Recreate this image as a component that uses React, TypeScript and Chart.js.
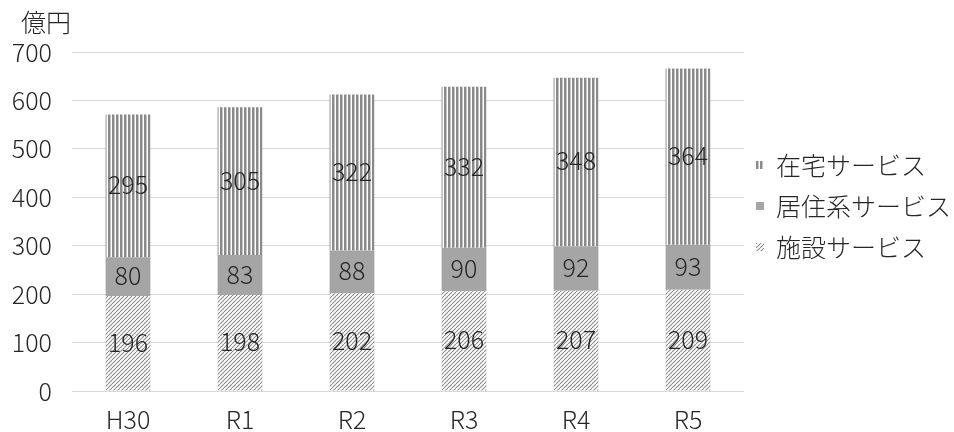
import React, { useEffect, useRef } from "react";
import { Chart, registerables } from "chart.js";

Chart.register(...registerables);

const categories = ["H30", "R1", "R2", "R3", "R4", "R5"];
const shisetsu = [196, 198, 202, 206, 207, 209];
const kyojuu = [80, 83, 88, 90, 92, 93];
const zaitaku = [295, 305, 322, 332, 348, 364];
const seriesNames = ["施設サービス", "居住系サービス", "在宅サービス"];
const yTicks = [0, 100, 200, 300, 400, 500, 600, 700];
const unitLabel = "億円";

const FONT = "'Noto Sans CJK JP', 'Noto Sans', sans-serif";
const WEIGHT = 300;
const SIZE = 25;
const TEXT = "#262626";

function makeVertical(): CanvasPattern | string {
  const c = document.createElement("canvas");
  c.width = 4;
  c.height = 4;
  const ctx = c.getContext("2d");
  if (!ctx) return "#8c8c8c";
  ctx.fillStyle = "#ffffff";
  ctx.fillRect(0, 0, 4, 4);
  ctx.fillStyle = "#8a8a8a";
  ctx.fillRect(0, 0, 2, 4);
  ctx.fillStyle = "#c4c4c4";
  ctx.fillRect(2, 0, 1, 4);
  return ctx.createPattern(c, "repeat") || "#8c8c8c";
}

function makeDiagonal(): CanvasPattern | string {
  const s = 4;
  const c = document.createElement("canvas");
  c.width = s;
  c.height = s;
  const ctx = c.getContext("2d");
  if (!ctx) return "#cccccc";
  ctx.fillStyle = "#ffffff";
  ctx.fillRect(0, 0, s, s);
  ctx.strokeStyle = "#8c8c8c";
  ctx.lineWidth = 1.1;
  ctx.beginPath();
  for (let k = -1; k <= 1; k++) {
    ctx.moveTo(k * s, s);
    ctx.lineTo(k * s + s, 0);
  }
  ctx.stroke();
  return ctx.createPattern(c, "repeat") || "#cccccc";
}

const dataLabelPlugin = {
  id: "dataLabels",
  afterDatasetsDraw(chart: any) {
    const ctx = chart.ctx;
    ctx.save();
    ctx.font = `${WEIGHT} ${SIZE}px ${FONT}`;
    ctx.fillStyle = TEXT;
    ctx.textAlign = "center";
    ctx.textBaseline = "middle";
    chart.data.datasets.forEach((ds: any, i: number) => {
      const meta = chart.getDatasetMeta(i);
      meta.data.forEach((el: any, j: number) => {
        const y = (el.y + el.base) / 2;
        ctx.fillText(String(ds.data[j]), el.x, y - 1);
      });
    });
    ctx.restore();
  },
};

const unitAndLegendPlugin = {
  id: "unitAndLegend",
  afterDraw(chart: any) {
    const ctx = chart.ctx;
    const area = chart.chartArea;
    ctx.save();
    ctx.font = `${WEIGHT} ${SIZE}px ${FONT}`;
    ctx.fillStyle = TEXT;
    ctx.textAlign = "left";
    ctx.textBaseline = "middle";
    ctx.fillText(unitLabel, 21, 22);
    // legend, reversed order (top series first)
    const ds = chart.data.datasets;
    const x0 = area.right + 12;
    const yStart = 165;
    const step = 41;
    for (let k = 0; k < ds.length; k++) {
      const d = ds[ds.length - 1 - k];
      const y = yStart + k * step;
      ctx.fillStyle = d.backgroundColor;
      ctx.fillRect(x0, y - 4, 8, 8);
      ctx.fillStyle = TEXT;
      ctx.fillText(d.label, x0 + 20, y);
    }
    ctx.restore();
  },
};

export default function App() {
  const ref = useRef<HTMLCanvasElement>(null);
  useEffect(() => {
    if (!ref.current) return;
    const tickFont = { family: FONT, size: SIZE, weight: WEIGHT as any };
    const chart = new Chart(ref.current, {
      type: "bar",
      data: {
        labels: categories,
        datasets: [
          { label: seriesNames[0], data: shisetsu, backgroundColor: makeDiagonal() as any, borderWidth: 0 },
          { label: seriesNames[1], data: kyojuu, backgroundColor: "#a5a5a5", borderWidth: 0 },
          { label: seriesNames[2], data: zaitaku, backgroundColor: makeVertical() as any, borderWidth: 0 },
        ],
      },
      options: {
        animation: false,
        responsive: true,
        maintainAspectRatio: false,
        layout: { padding: { top: 52, left: 0, right: 210, bottom: 0 } },
        datasets: { bar: { barPercentage: 0.8, categoryPercentage: 0.5 } } as any,
        scales: {
          x: {
            stacked: true,
            grid: { display: false },
            border: { display: false },
            ticks: { color: TEXT, font: tickFont, padding: 5 },
            afterFit: (axis: any) => {
              axis.height = 41;
            },
          },
          y: {
            stacked: true,
            min: 0,
            max: 700,
            afterBuildTicks: (axis: any) => {
              axis.ticks = yTicks.map((v) => ({ value: v }));
            },
            grid: { color: "#d9d9d9", lineWidth: 1, drawTicks: false },
            border: { display: false },
            ticks: { color: TEXT, font: tickFont, padding: 20 },
            afterFit: (axis: any) => {
              axis.width = 72;
            },
          },
        },
        plugins: {
          legend: { display: false },
          tooltip: { enabled: false },
        },
      },
      plugins: [dataLabelPlugin, unitAndLegendPlugin],
    });
    return () => chart.destroy();
  }, []);
  return (
    <div style={{ position: "fixed", left: 0, top: 0, width: 954, height: 432, background: "#fff" }}>
      <canvas ref={ref} />
    </div>
  );
}
